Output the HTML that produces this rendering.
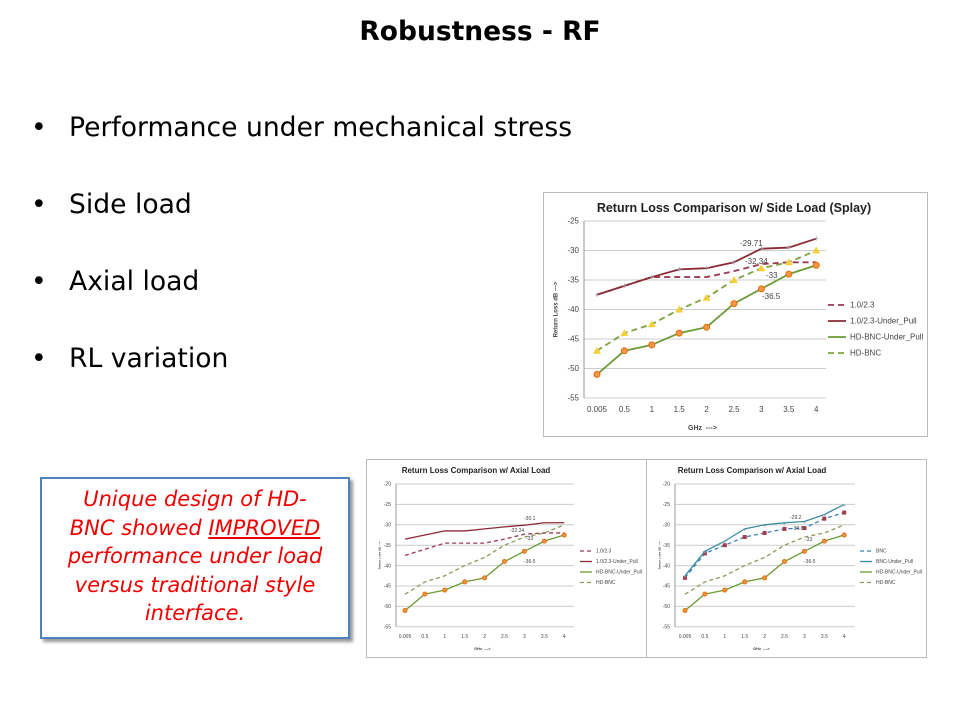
<!DOCTYPE html>
<html><head><meta charset="utf-8"><style>
body{margin:0;width:960px;height:720px;background:#fff;position:relative;overflow:hidden;font-family:"DejaVu Sans",sans-serif}
.t{position:absolute;left:0;width:960px;top:16px;text-align:center;font-weight:bold;font-size:26.5px}
.b{position:absolute;left:31px;font-size:26.6px}
.b span{position:absolute;left:38px;white-space:nowrap}
.box{position:absolute;left:40px;top:477px;width:306px;height:152px;border:2px solid #4f81bd;box-shadow:3px 3px 3px #999;background:#fff;color:#e00;font-family:"DejaVu Sans",sans-serif;font-style:italic;font-size:21px;line-height:28.5px;text-align:center;padding-top:6px;box-sizing:content-box}
svg{position:absolute;left:0;top:0;font-family:"Liberation Sans",sans-serif}
</style></head><body>
<div class="t">Robustness - RF</div>
<div class="b" style="top:112px">•<span>Performance under mechanical stress</span></div>
<div class="b" style="top:189px">•<span>Side load</span></div>
<div class="b" style="top:266px">•<span>Axial load</span></div>
<div class="b" style="top:343px">•<span>RL variation</span></div>
<div class="box">Unique design of HD-<br>BNC showed <u>IMPROVED</u><br>performance under load<br>versus traditional style<br>interface.</div>
<svg id="s" width="960" height="720" xmlns="http://www.w3.org/2000/svg"></svg>
<script>
var s=document.getElementById('s'),h='';
var X=['0.005','0.5','1','1.5','2','2.5','3','3.5','4'];
var A=[-37.5,-36,-34.5,-34.5,-34.5,-33.5,-32.3,-32,-32],
UP=[-37.5,-36,-34.5,-33.2,-33,-32,-29.7,-29.5,-28],
G=[-51,-47,-46,-44,-43,-39,-36.5,-34,-32.5],
H=[-47,-44,-42.5,-40,-38,-35,-33,-32,-30],
UP2=[-33.5,-32.5,-31.5,-31.5,-31,-30.5,-30.1,-29.5,-29.5],
B=[-43,-37,-35,-33,-32,-31,-30.8,-28.5,-27],
BU=[-42.5,-36.5,-34,-31,-30,-29.5,-29.2,-27.5,-25];
function chart(c){
 var fs=c.fs;
 h+='<rect x="'+c.bx+'" y="'+c.by+'" width="'+c.bw+'" height="'+c.bh+'" fill="#fff" stroke="#bbb"/>';
 h+='<text x="'+c.tx+'" y="'+c.ty+'" font-size="'+c.tfs+'" font-weight="bold" text-anchor="middle" fill="#222">'+c.title+'</text>';
 var Y=function(v){return c.y0+(c.top-v)/5*c.py};
 for(var v=c.top;v>=-55;v-=5){var y=Y(v);
  h+='<line x1="'+c.x0+'" x2="'+c.x1+'" y1="'+y+'" y2="'+y+'" stroke="#ccc"/>';
  h+='<text x="'+(c.x0-5)+'" y="'+(y+fs/3)+'" font-size="'+fs+'" text-anchor="end" fill="#444">'+v+'</text>';}
 h+='<line x1="'+c.x0+'" x2="'+c.x0+'" y1="'+c.y0+'" y2="'+Y(-55)+'" stroke="#999"/>';
 X.forEach(function(l,i){h+='<text x="'+(c.cx+i*c.st)+'" y="'+(Y(-55)+fs+6)+'" font-size="'+fs+'" text-anchor="middle" fill="#444">'+l+'</text>';});
 h+='<text x="'+c.gx+'" y="'+c.gy+'" font-size="'+(fs-1)+'" font-weight="bold" fill="#444">GHz &#160;---&gt;</text>';
 var my=(c.y0+Y(-55))/2;
 h+='<text transform="translate('+(c.bx+14)+','+my+') rotate(-90)" font-size="'+(fs-2)+'" font-weight="bold" text-anchor="middle" fill="#444">Return Loss dB ---&gt;</text>';
 c.ser.forEach(function(sr,k){
  var p=sr.d.map(function(v,i){return (c.cx+i*c.st)+','+Y(v)}).join(' ');
  h+='<polyline points="'+p+'" fill="none" stroke="'+sr.c+'" stroke-width="'+c.lw+'"'+(sr.dash?' stroke-dasharray="'+c.dash+'"':'')+'/>';
  sr.d.forEach(function(v,i){var x=c.cx+i*c.st,y=Y(v),r=c.mr;
   if(sr.m=='o')h+='<circle cx="'+x+'" cy="'+y+'" r="'+r+'" fill="#f79646" stroke="#e46c0a"/>';
   if(sr.m=='t')h+='<polygon points="'+x+','+(y-r-1)+' '+(x-r-1)+','+(y+r)+' '+(x+r+1)+','+(y+r)+'" fill="#f5d03c"/>';
   if(sr.m=='s')h+='<rect x="'+(x-r)+'" y="'+(y-r)+'" width="'+2*r+'" height="'+2*r+'" fill="#a33b4b"/>';
   if(sr.m=='x')h+='<text x="'+x+'" y="'+(y+3)+'" font-size="'+(r*3)+'" text-anchor="middle" fill="#99a">+</text>';
  });
  var ly=c.ly+k*c.lsp;
  h+='<line x1="'+c.lx+'" x2="'+(c.lx+c.ll)+'" y1="'+ly+'" y2="'+ly+'" stroke="'+sr.c+'" stroke-width="'+c.lw+'"'+(sr.dash?' stroke-dasharray="'+c.dash+'"':'')+'/>';
  h+='<text x="'+(c.lx+c.ll+4)+'" y="'+(ly+fs/3)+'" font-size="'+fs+'" fill="#444">'+sr.n+'</text>';
 });
 c.lab.forEach(function(l){h+='<text x="'+l[0]+'" y="'+l[1]+'" font-size="'+fs+'" fill="#444">'+l[2]+'</text>';});
}
chart({bx:543.5,by:192.5,bw:384,bh:244,tx:734,ty:212,tfs:12.5,title:'Return Loss Comparison w/ Side Load (Splay)',
 x0:584,x1:826,top:-25,y0:221,py:29.5,cx:597,st:27.4,fs:8,gx:688,gy:430,lw:1.8,dash:'6,4',mr:3,
 lx:828,ll:18,ly:305,lsp:16,
 ser:[{n:'1.0/2.3',d:A,c:'#9b3a4d',dash:1},{n:'1.0/2.3-Under_Pull',d:UP,c:'#8b2a35',m:'x'},{n:'HD-BNC-Under_Pull',d:G,c:'#6c9a35',m:'o'},{n:'HD-BNC',d:H,c:'#7ea23e',dash:1,m:'t'}],
 lab:[[740,246,'-29.71'],[745,264,'-32.34'],[766,278,'-33'],[762,299,'-36.5']]});
chart({bx:366.5,by:459.5,bw:280,bh:198,tx:476,ty:473,tfs:8,title:'Return Loss Comparison w/ Axial Load',
 x0:396,x1:574,top:-20,y0:484,py:20.4,cx:405,st:19.9,fs:5,gx:474,gy:650,lw:1.3,dash:'4,3',mr:2,
 lx:580,ll:12,ly:551,lsp:10.5,
 ser:[{n:'1.0/2.3',d:A,c:'#9b3a4d',dash:1},{n:'1.0/2.3-Under_Pull',d:UP2,c:'#8b2a35'},{n:'HD-BNC-Under_Pull',d:G,c:'#6c9a35',m:'o'},{n:'HD-BNC',d:H,c:'#8a9a5a',dash:1}],
 lab:[[524,520,'-30.1'],[510,532,'-32.34'],[526,540,'-33'],[524,563,'-36.5']]});
chart({bx:646.5,by:459.5,bw:280,bh:198,tx:752,ty:473,tfs:8,title:'Return Loss Comparison w/ Axial Load',
 x0:675,x1:855,top:-20,y0:484,py:20.4,cx:685,st:19.9,fs:5,gx:753,gy:650,lw:1.3,dash:'4,3',mr:2,
 lx:860,ll:12,ly:551,lsp:10.5,
 ser:[{n:'BNC',d:B,c:'#3f7fbf',dash:1,m:'s'},{n:'BNC-Under_Pull',d:BU,c:'#3a8ea0',m:'x'},{n:'HD-BNC-Under_Pull',d:G,c:'#6c9a35',m:'o'},{n:'HD-BNC',d:H,c:'#8a9a5a',dash:1}],
 lab:[[790,519,'-29.2'],[792,530,'-30.8'],[805,541,'-33'],[804,563,'-36.5']]});
s.innerHTML=h;
</script>
</body></html>
